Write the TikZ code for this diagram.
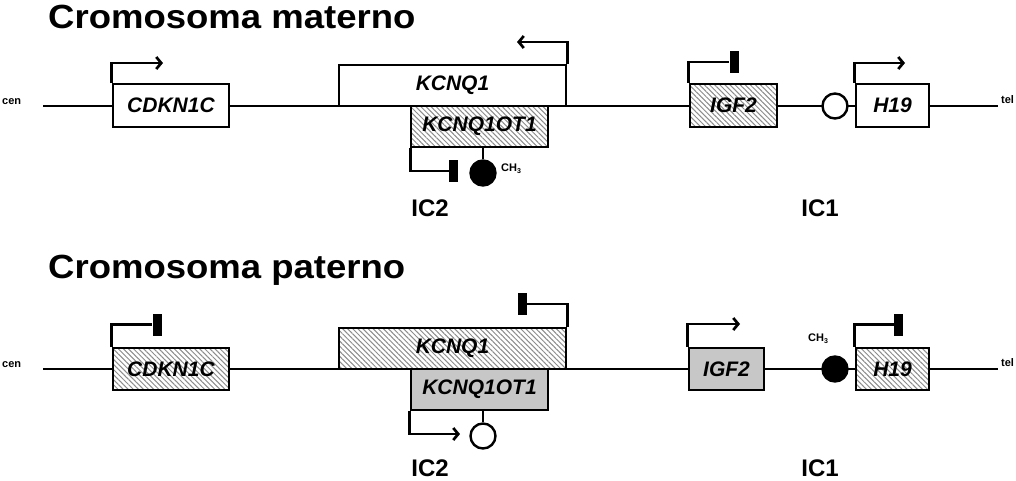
\documentclass[tikz,border=0pt]{standalone}
\usepackage{fontspec}
\usepackage{graphicx}
\setmainfont{Liberation Sans}
\usetikzlibrary{arrows.meta,patterns.meta}
\tikzset{
  base/.style={line width=2.7pt},
  gene/.style={draw, line width=2.6pt, inner sep=0pt, fill=white,
    font=\fontsize{21}{21}\selectfont\bfseries\itshape},
  hatched/.style={pattern={Lines[angle=-45,distance=3.6pt,line width=1pt]},
    pattern color=black!45, preaction={fill=white}},
  grayfill/.style={fill=black!22},
  arr/.style={base, -{Straight Barb[length=5pt,width=12pt]}},
  tbar/.style={fill=black, inner sep=0pt, minimum width=9pt, minimum height=22pt},
  mcirc/.style={circle, draw, line width=2.4pt, inner sep=0pt, minimum size=25pt},
  title/.style={inner sep=0pt, anchor=base west, font=\fontsize{33.5}{33.5}\selectfont\bfseries},
  ic/.style={inner sep=0pt, anchor=base, font=\fontsize{24}{24}\selectfont\bfseries},
  small/.style={inner sep=0pt, anchor=base west, font=\fontsize{11}{11}\selectfont\bfseries},
}
\begin{document}
\begin{tikzpicture}[x=1pt,y=-1pt]
\useasboundingbox (0,0) rectangle (1016,480);

% ---------- maternal ----------
\node[title] (t1) at (48,28) {\scalebox{1.09}[1]{Cromosoma materno}};
\coordinate (mcen) at (43,106);
\coordinate (mtel) at (998,106);
\draw[base] (mcen) -- (mtel);
\node[small] (cen1) at (2,104) {cen};
\node[small] (tel1) at (1001,103) {tel};

\node[gene, minimum width=116pt, minimum height=43pt] (mcdk) at (171,105.5) {CDKN1C};
\node[gene, minimum width=227pt, minimum height=41pt] (mkcnq) at (452.5,85.5) {KCNQ1};
\node[gene, hatched, minimum width=137pt, minimum height=41pt] (mot) at (479.5,126.5) {KCNQ1OT1};
\node[gene, hatched, minimum width=87pt, minimum height=43pt] (migf) at (733.5,105.5) {IGF2};
\node[gene, minimum width=73pt, minimum height=43pt] (mh19) at (892.5,105.5) {H19};

\coordinate (a1) at (163,63);
\draw[arr] (mcdk.north west) |- (a1);
\coordinate (a2) at (517,42);
\draw[arr] (mkcnq.north east) |- (a2);

\node[tbar] (mbar1) at (453.5,171) {};
\draw[base] (mot.south west) |- (mbar1.west);
\node[mcirc, fill=black] (mc1) at (483,173) {};
\draw[base] (mc1.north |- mot.south) -- (mc1.north);
\node[small] (ch1) at (501,171) {CH\raisebox{-2pt}{\fontsize{7}{7}\selectfont 3}};

\node[tbar] (mbar2) at (734,62) {};
\draw[base] (migf.north west) |- (mbar2.west);
\node[mcirc, fill=white] (mc2) at (835,106) {};
\coordinate (a3) at (905,63);
\draw[arr] (mh19.north west) |- (a3);

\node[ic] (ic2m) at (430,216) {IC2};
\node[ic] (ic1m) at (820,216) {IC1};

% ---------- paternal ----------
\node[title] (t2) at (48,278) {\scalebox{1.09}[1]{Cromosoma paterno}};
\coordinate (pcen) at (43,369);
\coordinate (ptel) at (998,369);
\draw[base] (pcen) -- (ptel);
\node[small] (cen2) at (2,367) {cen};
\node[small] (tel2) at (1001,366) {tel};

\node[gene, hatched, minimum width=116pt, minimum height=42pt] (pcdk) at (171,369) {CDKN1C};
\node[gene, hatched, minimum width=227pt, minimum height=41pt] (pkcnq) at (452.5,348.5) {KCNQ1};
\node[gene, grayfill, minimum width=137pt, minimum height=41pt] (pot) at (479.5,389.5) {KCNQ1OT1};
\node[gene, grayfill, minimum width=75pt, minimum height=42pt] (pigf) at (726.5,369) {IGF2};
\node[gene, hatched, minimum width=73pt, minimum height=42pt] (ph19) at (892.5,369) {H19};

\node[tbar] (pbar1) at (157,324.5) {};
\draw[base] (pcdk.north west) |- (pbar1.west);
\node[tbar] (pbar2) at (522.5,304) {};
\draw[base] (pkcnq.north east) |- (pbar2.east);

\coordinate (a4) at (460,434);
\draw[arr] (pot.south west) |- (a4);
\node[mcirc, fill=white] (pc1) at (483,436) {};
\draw[base] (pc1.north |- pot.south) -- (pc1.north);

\coordinate (a5) at (740,324);
\draw[arr] (pigf.north west) |- (a5);
\node[mcirc, fill=black] (pc2) at (835,369) {};
\node[small] (ch2) at (808,341) {CH\raisebox{-2pt}{\fontsize{7}{7}\selectfont 3}};
\node[tbar] (pbar3) at (898.5,324.5) {};
\draw[base] (ph19.north west) |- (pbar3.west);

\node[ic] (ic2p) at (430,476) {IC2};
\node[ic] (ic1p) at (820,476) {IC1};
\end{tikzpicture}
\end{document}
